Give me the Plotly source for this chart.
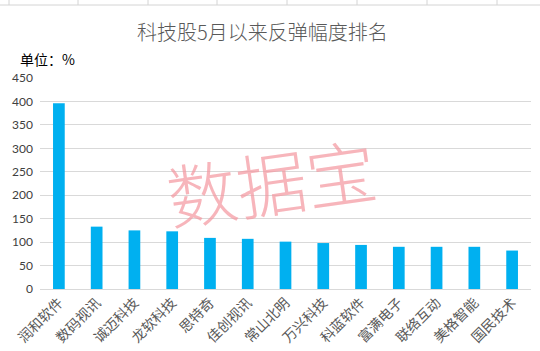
import plotly.graph_objects as go

categories = ["润和软件", "数码视讯", "诚迈科技", "龙软科技", "思特奇", "佳创视讯", "常山北明",
              "万兴科技", "科蓝软件", "富满电子", "联络互动", "美格智能", "国民技术"]
values = [396, 133, 125, 123, 109, 107, 101, 98, 94, 90, 90, 90, 82]
y_ticks = [0, 50, 100, 150, 200, 250, 300, 350, 400, 450]

title_text = "科技股5月以来反弹幅度排名"
unit_text = "单位：%"
watermark = "数据宝"

W, H = 540, 351
L, R, T, B = 40, 9, 78, 62
PW, PH = W - L - R, H - T - B


def px_x(p):
    return (p - L) / PW


def px_y(p):
    return (H - B - p) / PH


fig = go.Figure()
fig.add_trace(go.Bar(
    x=categories, y=values,
    marker=dict(color="#00B0F0", line=dict(width=0)),
    width=0.31,
))

cjk = "Noto Sans CJK SC"

fig.update_layout(
    width=W, height=H,
    margin=dict(l=L, r=R, t=T, b=B, autoexpand=False),
    paper_bgcolor="white", plot_bgcolor="white",
    showlegend=False,
    font=dict(family=cjk, color="#595959"),
    xaxis=dict(
        tickangle=-45, automargin=False,
        tickfont=dict(family=cjk, size=14, color="#595959"),
        showgrid=False, showline=False, ticks="", ticklabelstandoff=2,
    ),
    yaxis=dict(
        range=[0, 450], tickvals=y_ticks, automargin=False,
        tickfont=dict(family="Lato", size=12, color="#404040"),
        showgrid=True, gridcolor="#d9d9d9", gridwidth=1,
        zeroline=True, zerolinecolor="#d9d9d9", zerolinewidth=1,
        showline=False, ticks="", ticklabelstandoff=6,
    ),
    annotations=[
        dict(text=title_text, xref="paper", yref="paper", x=px_x(262), y=px_y(32),
             xanchor="center", yanchor="middle", showarrow=False,
             font=dict(family=cjk, size=20, color="#595959", weight=300)),
        dict(text=unit_text, xref="paper", yref="paper", x=px_x(18), y=px_y(59),
             xanchor="left", yanchor="middle", showarrow=False,
             font=dict(family=cjk, size=14, color="#000000")),
        dict(text=watermark, xref="paper", yref="paper", x=px_x(271), y=px_y(180),
             xanchor="center", yanchor="middle", showarrow=False, textangle=-8,
             font=dict(family=cjk, size=70, color="rgba(244,150,158,0.7)", weight=300)),
    ],
)

# cell grid lines of the spreadsheet visible at the top edge
shapes = [dict(type="line", xref="paper", yref="paper", x0=px_x(0), x1=px_x(W),
               y0=px_y(5), y1=px_y(5), line=dict(color="#d4d4d4", width=1))]
for xv in [9, 78, 148, 217, 287, 357, 427, 497]:
    shapes.append(dict(type="line", xref="paper", yref="paper", x0=px_x(xv), x1=px_x(xv),
                       y0=px_y(5), y1=px_y(0), line=dict(color="#d4d4d4", width=1)))
fig.update_layout(shapes=shapes)

fig.write_html("out.html")
